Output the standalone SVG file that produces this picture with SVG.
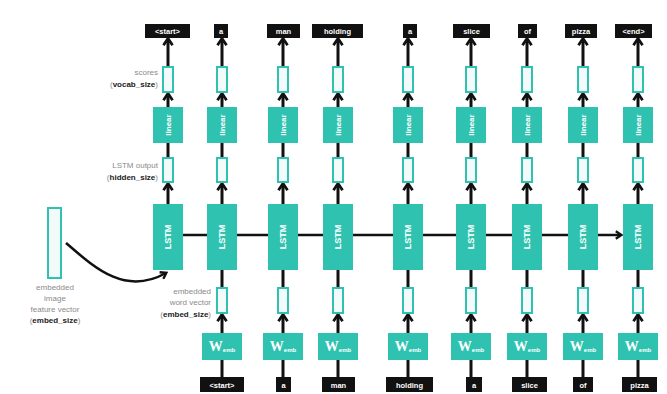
<svg xmlns="http://www.w3.org/2000/svg" width="667" height="394" viewBox="0 0 667 394">
<defs>
<marker id="ah" viewBox="0 0 10 10" refX="7" refY="5" markerWidth="3.8" markerHeight="3.8" orient="auto"><path d="M1.5,1 L7.5,5 L1.5,9" fill="none" stroke="#111" stroke-width="2.4"/></marker>
<style>
.lbl{fill:#111}
.lt{fill:#fff;font-family:"Liberation Sans",Arial,sans-serif;font-size:7.5px;font-weight:bold;text-anchor:middle}
.vec{fill:#f2fbfa;stroke:#2fc2b0;stroke-width:2}
.blk{fill:#2fc2b0}
.bt{fill:#fff;font-family:"Liberation Sans",Arial,sans-serif;font-size:8px;font-weight:bold;text-anchor:middle}
.wt{fill:#fff;font-family:"Liberation Serif","Times New Roman",serif;font-size:14px;font-weight:bold;text-anchor:middle}
.wt tspan{font-family:"Liberation Sans",Arial,sans-serif;font-size:6px}
.ln{stroke:#111;stroke-width:3;fill:none}
.ar{stroke:#111;stroke-width:3;fill:none;marker-end:url(#ah)}
.ann{fill:#8a8a8a;font-family:"Liberation Sans",Arial,sans-serif;font-size:8px}
.ann .b{fill:#222;font-weight:bold}
</style>
</defs>
<rect width="667" height="394" fill="#fff"/>
<g id="connectors">
<line class="ar" x1="168" y1="66" x2="168" y2="39"/><line class="ar" x1="222" y1="66" x2="222" y2="39"/><line class="ar" x1="283" y1="66" x2="283" y2="39"/><line class="ar" x1="338" y1="66" x2="338" y2="39"/><line class="ar" x1="408" y1="66" x2="408" y2="39"/><line class="ar" x1="471" y1="66" x2="471" y2="39"/><line class="ar" x1="527" y1="66" x2="527" y2="39"/><line class="ar" x1="583" y1="66" x2="583" y2="39"/><line class="ar" x1="638" y1="66" x2="638" y2="39"/>
<line class="ar" x1="168" y1="107" x2="168" y2="94"/><line class="ar" x1="222" y1="107" x2="222" y2="94"/><line class="ar" x1="283" y1="107" x2="283" y2="94"/><line class="ar" x1="338" y1="107" x2="338" y2="94"/><line class="ar" x1="408" y1="107" x2="408" y2="94"/><line class="ar" x1="471" y1="107" x2="471" y2="94"/><line class="ar" x1="527" y1="107" x2="527" y2="94"/><line class="ar" x1="583" y1="107" x2="583" y2="94"/><line class="ar" x1="638" y1="107" x2="638" y2="94"/>
<line class="ln" x1="168" y1="143" x2="168" y2="158"/><line class="ln" x1="222" y1="143" x2="222" y2="158"/><line class="ln" x1="283" y1="143" x2="283" y2="158"/><line class="ln" x1="338" y1="143" x2="338" y2="158"/><line class="ln" x1="408" y1="143" x2="408" y2="158"/><line class="ln" x1="471" y1="143" x2="471" y2="158"/><line class="ln" x1="527" y1="143" x2="527" y2="158"/><line class="ln" x1="583" y1="143" x2="583" y2="158"/><line class="ln" x1="638" y1="143" x2="638" y2="158"/>
<line class="ar" x1="168" y1="204" x2="168" y2="184"/><line class="ar" x1="222" y1="204" x2="222" y2="184"/><line class="ar" x1="283" y1="204" x2="283" y2="184"/><line class="ar" x1="338" y1="204" x2="338" y2="184"/><line class="ar" x1="408" y1="204" x2="408" y2="184"/><line class="ar" x1="471" y1="204" x2="471" y2="184"/><line class="ar" x1="527" y1="204" x2="527" y2="184"/><line class="ar" x1="583" y1="204" x2="583" y2="184"/><line class="ar" x1="638" y1="204" x2="638" y2="184"/>
<line class="ln" x1="222" y1="270" x2="222" y2="288"/><line class="ln" x1="283" y1="270" x2="283" y2="288"/><line class="ln" x1="338" y1="270" x2="338" y2="288"/><line class="ln" x1="408" y1="270" x2="408" y2="288"/><line class="ln" x1="471" y1="270" x2="471" y2="288"/><line class="ln" x1="527" y1="270" x2="527" y2="288"/><line class="ln" x1="583" y1="270" x2="583" y2="288"/><line class="ln" x1="638" y1="270" x2="638" y2="288"/>
<line class="ar" x1="222" y1="333" x2="222" y2="315"/><line class="ar" x1="283" y1="333" x2="283" y2="315"/><line class="ar" x1="338" y1="333" x2="338" y2="315"/><line class="ar" x1="408" y1="333" x2="408" y2="315"/><line class="ar" x1="471" y1="333" x2="471" y2="315"/><line class="ar" x1="527" y1="333" x2="527" y2="315"/><line class="ar" x1="583" y1="333" x2="583" y2="315"/><line class="ar" x1="638" y1="333" x2="638" y2="315"/>
<line class="ln" x1="222" y1="360" x2="222" y2="377"/><line class="ln" x1="283" y1="360" x2="283" y2="377"/><line class="ln" x1="338" y1="360" x2="338" y2="377"/><line class="ln" x1="408" y1="360" x2="408" y2="377"/><line class="ln" x1="471" y1="360" x2="471" y2="377"/><line class="ln" x1="527" y1="360" x2="527" y2="377"/><line class="ln" x1="583" y1="360" x2="583" y2="377"/><line class="ln" x1="638" y1="360" x2="638" y2="377"/>
<line class="ar" x1="183" y1="235" x2="621" y2="235" style="stroke-width:2.5"/>
<path class="ar" d="M66 243 C 95 268, 125 296, 166 273" style="stroke-width:2.5"/>
</g>
<g id="image-vector"><rect class="vec" x="48" y="208" width="13" height="70"/>
<text class="ann" text-anchor="middle"><tspan x="55" y="290">embedded</tspan><tspan x="55" y="301">image</tspan><tspan x="55" y="312">feature vector</tspan><tspan x="55" y="323">(<tspan class="b">embed_size</tspan>)</tspan></text></g>
<g id="annotations">
<text class="ann" text-anchor="end"><tspan x="158" y="75">scores</tspan><tspan x="158" y="87">(<tspan class="b">vocab_size</tspan>)</tspan></text>
<text class="ann" text-anchor="end"><tspan x="158" y="168">LSTM output</tspan><tspan x="158" y="180">(<tspan class="b">hidden_size</tspan>)</tspan></text>
<text class="ann" text-anchor="end"><tspan x="211" y="294">embedded</tspan><tspan x="211" y="305">word vector</tspan><tspan x="211" y="317">(<tspan class="b">embed_size</tspan>)</tspan></text>
</g>
<g id="top-labels">
<rect class="lbl" x="145" y="24" width="45" height="14"/><text class="lt" x="167.5" y="34">&lt;start&gt;</text>
<rect class="lbl" x="214" y="24" width="14" height="14"/><text class="lt" x="221" y="34">a</text>
<rect class="lbl" x="267" y="24" width="33" height="14"/><text class="lt" x="283.5" y="34">man</text>
<rect class="lbl" x="312" y="24" width="51" height="14"/><text class="lt" x="337.5" y="34">holding</text>
<rect class="lbl" x="403" y="24" width="14" height="14"/><text class="lt" x="410" y="34">a</text>
<rect class="lbl" x="453" y="24" width="37" height="14"/><text class="lt" x="471.5" y="34">slice</text>
<rect class="lbl" x="518" y="24" width="19" height="14"/><text class="lt" x="527.5" y="34">of</text>
<rect class="lbl" x="565" y="24" width="32" height="14"/><text class="lt" x="581" y="34">pizza</text>
<rect class="lbl" x="615" y="24" width="37" height="14"/><text class="lt" x="633.5" y="34">&lt;end&gt;</text>
</g>
<g id="scores">
<rect class="vec" x="163" y="67" width="10" height="25"/><rect class="vec" x="217" y="67" width="10" height="25"/><rect class="vec" x="278" y="67" width="10" height="25"/><rect class="vec" x="333" y="67" width="10" height="25"/><rect class="vec" x="403" y="67" width="10" height="25"/><rect class="vec" x="466" y="67" width="10" height="25"/><rect class="vec" x="522" y="67" width="10" height="25"/><rect class="vec" x="578" y="67" width="10" height="25"/><rect class="vec" x="633" y="67" width="10" height="25"/>
</g>
<g id="linear">
<rect class="blk" x="153" y="107" width="30" height="36"/><text class="bt" transform="translate(171 125) rotate(-90)">linear</text>
<rect class="blk" x="207" y="107" width="30" height="36"/><text class="bt" transform="translate(225 125) rotate(-90)">linear</text>
<rect class="blk" x="268" y="107" width="30" height="36"/><text class="bt" transform="translate(286 125) rotate(-90)">linear</text>
<rect class="blk" x="323" y="107" width="30" height="36"/><text class="bt" transform="translate(341 125) rotate(-90)">linear</text>
<rect class="blk" x="393" y="107" width="30" height="36"/><text class="bt" transform="translate(411 125) rotate(-90)">linear</text>
<rect class="blk" x="456" y="107" width="30" height="36"/><text class="bt" transform="translate(474 125) rotate(-90)">linear</text>
<rect class="blk" x="512" y="107" width="30" height="36"/><text class="bt" transform="translate(530 125) rotate(-90)">linear</text>
<rect class="blk" x="568" y="107" width="30" height="36"/><text class="bt" transform="translate(586 125) rotate(-90)">linear</text>
<rect class="blk" x="623" y="107" width="30" height="36"/><text class="bt" transform="translate(641 125) rotate(-90)">linear</text>
</g>
<g id="lstm-output">
<rect class="vec" x="163" y="158" width="10" height="24"/><rect class="vec" x="217" y="158" width="10" height="24"/><rect class="vec" x="278" y="158" width="10" height="24"/><rect class="vec" x="333" y="158" width="10" height="24"/><rect class="vec" x="403" y="158" width="10" height="24"/><rect class="vec" x="466" y="158" width="10" height="24"/><rect class="vec" x="522" y="158" width="10" height="24"/><rect class="vec" x="578" y="158" width="10" height="24"/><rect class="vec" x="633" y="158" width="10" height="24"/>
</g>
<g id="lstm">
<rect class="blk" x="153" y="204" width="30" height="66"/><text class="bt" style="font-size:9px" transform="translate(171 237) rotate(-90)">LSTM</text>
<rect class="blk" x="207" y="204" width="30" height="66"/><text class="bt" style="font-size:9px" transform="translate(225 237) rotate(-90)">LSTM</text>
<rect class="blk" x="268" y="204" width="30" height="66"/><text class="bt" style="font-size:9px" transform="translate(286 237) rotate(-90)">LSTM</text>
<rect class="blk" x="323" y="204" width="30" height="66"/><text class="bt" style="font-size:9px" transform="translate(341 237) rotate(-90)">LSTM</text>
<rect class="blk" x="393" y="204" width="30" height="66"/><text class="bt" style="font-size:9px" transform="translate(411 237) rotate(-90)">LSTM</text>
<rect class="blk" x="456" y="204" width="30" height="66"/><text class="bt" style="font-size:9px" transform="translate(474 237) rotate(-90)">LSTM</text>
<rect class="blk" x="512" y="204" width="30" height="66"/><text class="bt" style="font-size:9px" transform="translate(530 237) rotate(-90)">LSTM</text>
<rect class="blk" x="568" y="204" width="30" height="66"/><text class="bt" style="font-size:9px" transform="translate(586 237) rotate(-90)">LSTM</text>
<rect class="blk" x="623" y="204" width="30" height="66"/><text class="bt" style="font-size:9px" transform="translate(641 237) rotate(-90)">LSTM</text>
</g>
<g id="embedded">
<rect class="vec" x="217" y="288" width="10" height="25"/><rect class="vec" x="278" y="288" width="10" height="25"/><rect class="vec" x="333" y="288" width="10" height="25"/><rect class="vec" x="403" y="288" width="10" height="25"/><rect class="vec" x="466" y="288" width="10" height="25"/><rect class="vec" x="522" y="288" width="10" height="25"/><rect class="vec" x="578" y="288" width="10" height="25"/><rect class="vec" x="633" y="288" width="10" height="25"/>
</g>
<g id="wemb">
<rect class="blk" x="202" y="333" width="40" height="27"/><text class="wt" x="222" y="351">W<tspan dy="1">emb</tspan></text>
<rect class="blk" x="263" y="333" width="40" height="27"/><text class="wt" x="283" y="351">W<tspan dy="1">emb</tspan></text>
<rect class="blk" x="318" y="333" width="40" height="27"/><text class="wt" x="338" y="351">W<tspan dy="1">emb</tspan></text>
<rect class="blk" x="388" y="333" width="40" height="27"/><text class="wt" x="408" y="351">W<tspan dy="1">emb</tspan></text>
<rect class="blk" x="451" y="333" width="40" height="27"/><text class="wt" x="471" y="351">W<tspan dy="1">emb</tspan></text>
<rect class="blk" x="507" y="333" width="40" height="27"/><text class="wt" x="527" y="351">W<tspan dy="1">emb</tspan></text>
<rect class="blk" x="563" y="333" width="40" height="27"/><text class="wt" x="583" y="351">W<tspan dy="1">emb</tspan></text>
<rect class="blk" x="618" y="333" width="40" height="27"/><text class="wt" x="638" y="351">W<tspan dy="1">emb</tspan></text>
</g>
<g id="bottom-labels">
<rect class="lbl" x="200" y="377" width="44" height="15"/><text class="lt" x="222" y="387.5">&lt;start&gt;</text>
<rect class="lbl" x="276" y="377" width="15" height="15"/><text class="lt" x="283.5" y="387.5">a</text>
<rect class="lbl" x="322" y="377" width="33" height="15"/><text class="lt" x="338.5" y="387.5">man</text>
<rect class="lbl" x="386" y="377" width="47" height="15"/><text class="lt" x="409.5" y="387.5">holding</text>
<rect class="lbl" x="466" y="377" width="16" height="15"/><text class="lt" x="474" y="387.5">a</text>
<rect class="lbl" x="512" y="377" width="35" height="15"/><text class="lt" x="529.5" y="387.5">slice</text>
<rect class="lbl" x="573" y="377" width="20" height="15"/><text class="lt" x="583" y="387.5">of</text>
<rect class="lbl" x="622" y="377" width="35" height="15"/><text class="lt" x="639.5" y="387.5">pizza</text>
</g>
</svg>
